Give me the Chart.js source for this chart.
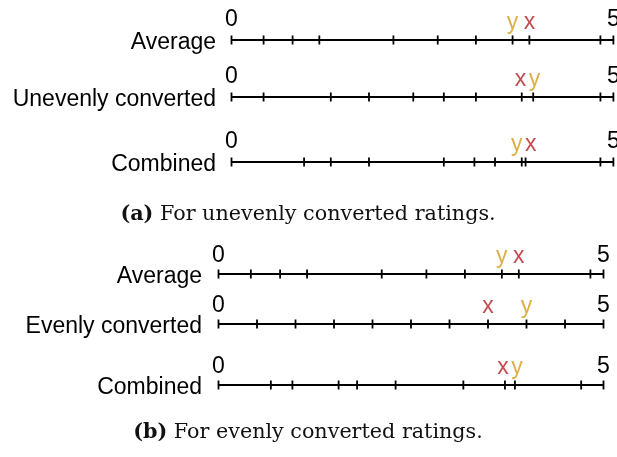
<!DOCTYPE html>
<html>
<head>
<meta charset="utf-8">
<script src="https://cdn.jsdelivr.net/npm/chart.js@4"></script>
<style>
  html, body { margin: 0; padding: 0; background: #fff; }
  #page { position: relative; width: 617px; height: 457px; overflow: hidden; background: #fff; }
  #page canvas { position: absolute; left: 0; }
  .cap { position: absolute; left: 0; width: 616px; text-align: center; white-space: nowrap;
         font-family: "DejaVu Serif", serif; font-size: 20.7px; line-height: 24px; color: #111; }
  .cap b { font-weight: bold; }
</style>
</head>
<body>
<div id="page">
  <canvas id="a0" width="626" height="60"></canvas>
  <canvas id="a1" width="626" height="60"></canvas>
  <canvas id="a2" width="626" height="60"></canvas>
  <div class="cap" id="capA"></div>
  <canvas id="b0" width="617" height="60"></canvas>
  <canvas id="b1" width="617" height="60"></canvas>
  <canvas id="b2" width="617" height="60"></canvas>
  <div class="cap" id="capB"></div>
</div>
<script>
// Rating scale shared by every number line
const scaleRange = [0, 5];

// Row names
const rowNamesA = ['Average', 'Unevenly converted', 'Combined'];
const rowNamesB = ['Average', 'Evenly converted', 'Combined'];

// Tick positions on each line (besides the end points and the x / y marks)
const ticksAverage   = [0.42, 0.80, 1.15, 2.12, 2.70, 3.20, 4.83];
const ticksUneven    = [0.42, 1.30, 1.80, 2.38, 2.78, 3.20, 4.83];
const ticksCombinedA = [0.95, 1.30, 1.80, 2.78, 3.18, 3.45, 4.83];
const ticksEven      = [0.50, 1.00, 1.50, 2.00, 2.50, 3.00, 4.50];
const ticksCombinedB = [0.68, 0.96, 1.56, 1.80, 2.30, 3.18, 4.71];

// x and y values per row
const xValuesA = [3.90, 3.80, 3.85];
const yValuesA = [3.68, 3.95, 3.80];
const xValuesB = [3.90, 3.50, 3.72];
const yValuesB = [3.68, 4.00, 3.85];

const captionA = ['(a)', 'For unevenly converted ratings.'];
const captionB = ['(b)', 'For evenly converted ratings.'];

// ---- styling / layout ----
const SANS = '"Liberation Sans", Arial, sans-serif';
const FONT_SIZE = 23;
const X_COLOR = '#c44e52';
const Y_COLOR = '#ddb14a';
const TOP_AXIS_HEIGHT = 31;   // room above each line for the 0 / 5 labels
const BOTTOM_ROOM = 17;       // room below each line for the row name descenders

const markerLabels = {
  id: 'markerLabels',
  afterDatasetsDraw(chart, args, opts) {
    const xs = chart.scales.x, ys = chart.scales.y;
    const base = ys.getPixelForValue(0) - opts.lift;
    const items = opts.items.map(it => Object.assign({}, it, { px: xs.getPixelForValue(it.value) }));
    items.sort((p, q) => p.px - q.px);
    if (items.length === 2 && items[1].px - items[0].px < opts.minGap) {
      const mid = (items[0].px + items[1].px) / 2;
      items[0].px = mid - opts.minGap / 2;
      items[1].px = mid + opts.minGap / 2;
    }
    const ctx = chart.ctx;
    ctx.save();
    ctx.font = FONT_SIZE + 'px ' + SANS;
    ctx.textAlign = 'center';
    ctx.textBaseline = 'alphabetic';
    items.forEach(it => { ctx.fillStyle = it.color; ctx.fillText(it.text, it.px, base); });
    ctx.restore();
  }
};

function numberLine(canvasId, lineY, name, ticks, xv, yv, geo) {
  const el = document.getElementById(canvasId);
  const allTicks = [scaleRange[0], ...ticks, xv, yv, scaleRange[1]];
  const chart = new Chart(el, {
    type: 'scatter',
    data: {
      datasets: [
        {
          type: 'line',
          data: scaleRange.map(v => ({ x: v, y: 0 })),
          borderColor: '#000',
          borderWidth: 2,
          pointRadius: 0,
          clip: false
        },
        {
          data: allTicks.map(v => ({ x: v, y: 0 })),
          pointStyle: 'line',
          rotation: 90,
          pointRadius: 4.5,
          pointHoverRadius: 4.5,
          borderColor: '#000',
          backgroundColor: '#000',
          borderWidth: 1.8,
          clip: false
        }
      ]
    },
    options: {
      responsive: false,
      animation: false,
      devicePixelRatio: 1,
      events: [],
      layout: { padding: { left: 0, right: geo.padRight, top: 0, bottom: BOTTOM_ROOM } },
      plugins: {
        legend: { display: false },
        tooltip: { enabled: false },
        markerLabels: {
          lift: 11.5,
          minGap: 14,
          items: [
            { text: 'x', value: xv, color: X_COLOR },
            { text: 'y', value: yv, color: Y_COLOR }
          ]
        }
      },
      scales: {
        x: {
          type: 'linear',
          position: 'top',
          min: scaleRange[0],
          max: scaleRange[1],
          afterBuildTicks: s => { s.ticks = scaleRange.map(v => ({ value: v })); },
          afterFit: s => { s.height = TOP_AXIS_HEIGHT; },
          ticks: { font: { family: SANS, size: FONT_SIZE }, color: '#000', padding: geo.endLabelGap, maxRotation: 0, autoSkip: false },
          grid: { display: false, drawTicks: false },
          border: { display: false }
        },
        y: {
          type: 'linear',
          min: -1,
          max: 1,
          afterBuildTicks: s => { s.ticks = [{ value: 0 }]; },
          afterFit: s => { s.width = geo.plotLeft; },
          ticks: { callback: () => name, font: { family: SANS, size: FONT_SIZE }, color: '#000', padding: geo.nameGap, labelOffset: 2.5 },
          grid: { display: false, drawTicks: false },
          border: { display: false }
        }
      }
    },
    plugins: [markerLabels]
  });
  // place the canvas so that the number line sits at lineY on the page
  el.style.top = Math.round(lineY - chart.scales.y.getPixelForValue(0)) + 'px';
  return chart;
}

// Panel (a)
const geoA = { plotLeft: 231.5, padRight: 10.5, nameGap: 15.5, endLabelGap: 6.2 };
const linesA = [40, 97, 162];
const ticksA = [ticksAverage, ticksUneven, ticksCombinedA];
rowNamesA.forEach((n, i) => numberLine('a' + i, linesA[i], n, ticksA[i], xValuesA[i], yValuesA[i], geoA));

// Panel (b)
const geoB = { plotLeft: 218.5, padRight: 13.5, nameGap: 16.5, endLabelGap: 4.5 };
const linesB = [274, 324, 385];
const ticksB = [ticksAverage, ticksEven, ticksCombinedB];
rowNamesB.forEach((n, i) => numberLine('b' + i, linesB[i], n, ticksB[i], xValuesB[i], yValuesB[i], geoB));

function setCaption(id, parts, top) {
  const el = document.getElementById(id);
  el.style.top = top + 'px';
  const b = document.createElement('b');
  b.textContent = parts[0];
  el.appendChild(b);
  el.appendChild(document.createTextNode(' ' + parts[1]));
}
setCaption('capA', captionA, 201);
setCaption('capB', captionB, 419);
</script>
</body>
</html>
